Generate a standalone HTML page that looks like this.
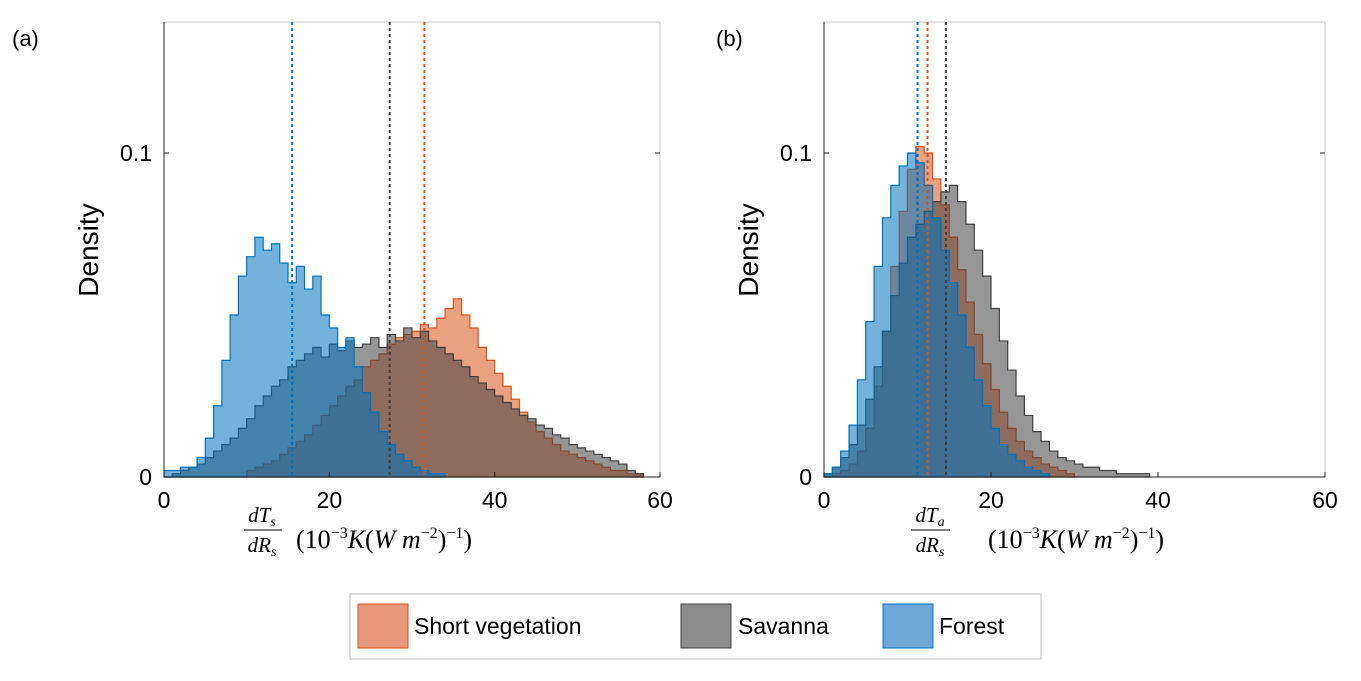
<!DOCTYPE html>
<html><head><meta charset="utf-8"><style>
body{margin:0;background:#fff;width:1361px;height:681px;overflow:hidden;font-family:"Liberation Sans",sans-serif}
svg{position:absolute;left:0;top:0}
</style></head><body>
<svg id="chart" width="1361" height="681">
<text x="12" y="46" font-size="22">(a)</text>
<text x="716" y="46" font-size="22">(b)</text>
<g font-family="Liberation Serif,serif" font-style="italic" font-size="21">
<text x="262" y="522" text-anchor="middle">dT<tspan font-size="14" dy="4">s</tspan></text>
<line x1="244" y1="530" x2="282" y2="530" stroke="#000" stroke-width="1"/>
<text x="262" y="552" text-anchor="middle">dR<tspan font-size="14" dy="4">s</tspan></text>
<text x="296" y="548" font-style="normal" font-size="26">(10<tspan font-size="16" dy="-10">−3</tspan><tspan dy="10" font-style="italic">K</tspan>(<tspan font-style="italic">W  m</tspan><tspan font-size="16" dy="-10">−2</tspan><tspan dy="10">)</tspan><tspan font-size="16" dy="-10">−1</tspan><tspan dy="10">)</tspan></text>
</g>
<g font-family="Liberation Serif,serif" font-style="italic" font-size="21">
<text x="930" y="522" text-anchor="middle">dT<tspan font-size="14" dy="4">a</tspan></text>
<line x1="911" y1="530" x2="950" y2="530" stroke="#000" stroke-width="1"/>
<text x="930" y="552" text-anchor="middle">dR<tspan font-size="14" dy="4">s</tspan></text>
<text x="988" y="548" font-style="normal" font-size="26">(10<tspan font-size="16" dy="-10">−3</tspan><tspan dy="10" font-style="italic">K</tspan>(<tspan font-style="italic">W  m</tspan><tspan font-size="16" dy="-10">−2</tspan><tspan dy="10">)</tspan><tspan font-size="16" dy="-10">−1</tspan><tspan dy="10">)</tspan></text>
</g>
<g>
<rect x="350" y="594" width="691" height="65" fill="#fff" stroke="#bbb"/>
<rect x="358" y="604" width="50" height="44" fill="#e8987a" stroke="#d95319"/>
<text x="414" y="634" font-size="23">Short vegetation</text>
<rect x="681" y="604" width="50" height="44" fill="#8c8c8c" stroke="#404040"/>
<text x="738" y="634" font-size="23">Savanna</text>
<rect x="883" y="604" width="50" height="44" fill="#6fa8d8" stroke="#0072bd"/>
<text x="939" y="634" font-size="23">Forest</text>
</g>
</svg>
<script>
const xTicks=[0,20,40,60];
const yTicks=[0,0.1];
const yTickLabels=["0","0.1"];
const forestA=[0.002,0.002,0.003,0.003,0.006,0.012,0.022,0.036,0.05,0.062,0.068,0.074,0.07,0.072,0.066,0.06,0.065,0.058,0.062,0.05,0.046,0.04,0.043,0.034,0.026,0.02,0.014,0.01,0.007,0.005,0.003,0.002,0.001,0.001];
const savannaA=[0,0.001,0.002,0.003,0.004,0.006,0.008,0.01,0.012,0.015,0.018,0.022,0.025,0.028,0.03,0.034,0.036,0.038,0.04,0.037,0.041,0.039,0.042,0.04,0.041,0.043,0.04,0.044,0.042,0.046,0.043,0.045,0.042,0.04,0.038,0.036,0.034,0.031,0.029,0.027,0.025,0.023,0.021,0.019,0.018,0.016,0.015,0.013,0.012,0.01,0.009,0.008,0.007,0.006,0.005,0.004,0.002,0.001];
const shortA=[0,0,0,0,0,0,0,0,0,0,0.002,0.003,0.004,0.005,0.007,0.009,0.011,0.013,0.016,0.019,0.022,0.025,0.028,0.03,0.034,0.036,0.038,0.041,0.043,0.044,0.045,0.047,0.046,0.049,0.052,0.055,0.05,0.046,0.04,0.036,0.032,0.028,0.024,0.02,0.017,0.014,0.012,0.01,0.008,0.007,0.006,0.005,0.004,0.003,0.002,0.002,0.001,0.001];
const forestB=[0.001,0.003,0.008,0.016,0.03,0.048,0.065,0.08,0.09,0.096,0.1,0.097,0.09,0.08,0.07,0.06,0.05,0.04,0.03,0.022,0.015,0.01,0.007,0.005,0.003,0.002,0.001];
const shortB=[0,0.001,0.002,0.004,0.008,0.015,0.028,0.045,0.065,0.082,0.095,0.102,0.1,0.092,0.084,0.074,0.064,0.054,0.044,0.035,0.027,0.02,0.015,0.011,0.008,0.006,0.004,0.003,0.002,0.001];
const savannaB=[0.001,0.003,0.006,0.01,0.016,0.024,0.034,0.045,0.056,0.066,0.074,0.078,0.082,0.085,0.088,0.09,0.085,0.078,0.07,0.062,0.052,0.042,0.033,0.025,0.019,0.014,0.011,0.008,0.006,0.005,0.004,0.003,0.003,0.002,0.002,0.001,0.001,0.001,0.001];
// order: short, savanna, forest
const meansA=[31.5,27.3,15.5];
const meansB=[12.4,14.6,11.2];
const NS="http://www.w3.org/2000/svg";
const svg=document.getElementById('chart');
const colors=["#d95319","#404040","#0072bd"];
const names=['short','savanna','forest'];
function mk(t,a,p){const e=document.createElementNS(NS,t);for(const k in a)e.setAttribute(k,a[k]);(p||svg).appendChild(e);return e;}
function panel(id,x0,x1,series,means){
  const top=22,bot=477,yMax=(bot-top)/3240;
  const X=v=>x0+(x1-x0)*v/60, Y=v=>bot-(bot-top)*v/yMax;
  const g=mk('g',{});
  
  
  mk('rect',{x:x0,y:top,width:x1-x0,height:bot-top,fill:'#fff',stroke:'#c8c8c8'},g);
  [0,1,2].forEach(si=>{
    const d=series[si];let p=`M${X(0)},${Y(0)}`;
    d.forEach((v,i)=>{p+=`L${X(i)},${Y(v)}L${X(i+1)},${Y(v)}`});
    p+=`L${X(d.length)},${Y(0)}Z`;
    const h=mk('path',{d:p,fill:colors[si],'fill-opacity':0.55,stroke:colors[si],'stroke-width':1.2},g);
    
    
  });
  means.forEach((m,i)=>{
    const l=mk('line',{x1:X(m),x2:X(m),y1:top,y2:bot,stroke:colors[i],'stroke-width':2,'stroke-dasharray':'3,3'},g);
    
    
  });
  mk('line',{x1:x0,y1:bot,x2:x1,y2:bot,stroke:'#222'},g);
  mk('line',{x1:x0,y1:top,x2:x0,y2:bot,stroke:'#222'},g);
  xTicks.forEach(t=>{
    mk('line',{x1:X(t),x2:X(t),y1:bot,y2:bot-5,stroke:'#222'},g);
    const tx=mk('text',{x:X(t),y:bot+31,'font-size':23,'text-anchor':'middle'},g);tx.textContent=t;
    
    
  });
  yTicks.forEach((t,i)=>{
    mk('line',{x1:x0,x2:x0+5,y1:Y(t),y2:Y(t),stroke:'#222'},g);
    mk('line',{x1:x1,x2:x1-5,y1:Y(t),y2:Y(t),stroke:'#222'},g);
    const tx=mk('text',{x:x0-12,y:Y(t)+8,'font-size':23,'text-anchor':'end'},g);tx.textContent=yTickLabels[i];
    
    
  });
  const yl=mk('text',{x:0,y:0,'font-size':28,'text-anchor':'middle',transform:`translate(${x0-66},250) rotate(-90)`},g);
  yl.textContent='Density';
  
  
}
panel('a',164,660,[shortA,savannaA,forestA],meansA);
panel('b',824,1325,[shortB,savannaB,forestB],meansB);
</script>
</body></html>
